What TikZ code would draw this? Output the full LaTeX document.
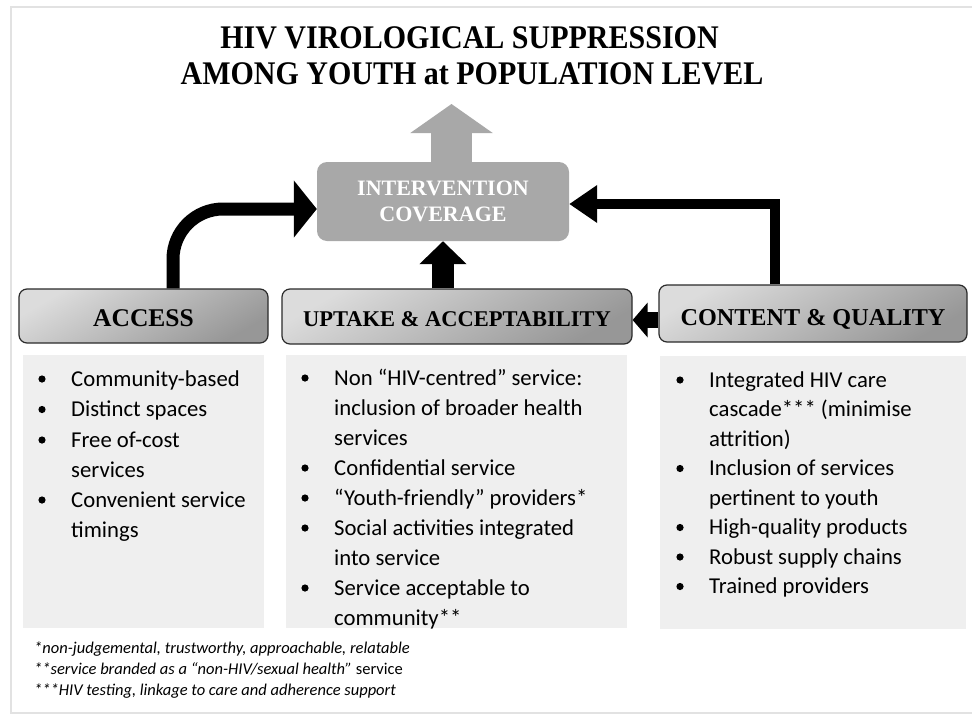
\documentclass[tikz,border=0pt]{standalone}
\usepackage{fontspec}
\setmainfont{Liberation Serif}
\newfontfamily\carl{Carlito}
\usetikzlibrary{arrows.meta,calc}
\definecolor{framegray}{HTML}{E2E2E2}
\definecolor{boxgray}{HTML}{EFEFEF}
\definecolor{intgray}{HTML}{A8A8A8}
\definecolor{hlight}{HTML}{DCDCDC}
\definecolor{hdark}{HTML}{979797}
\definecolor{hborder}{HTML}{2B2B2B}
\begin{document}
\begin{tikzpicture}[x=1pt,y=-1pt,
  hdr/.style={draw=hborder, line width=1.2pt, rounded corners=8pt,
    top color=hlight, bottom color=hdark, shading angle=30,
    inner sep=0pt, text depth=0pt},
  listbox/.style={fill=boxgray, inner sep=0pt, minimum height=273pt},
  item/.style={anchor=base west, inner sep=0pt, font=\carl\fontsize{22.7}{26}\selectfont},
  foot/.style={anchor=base west, inner sep=0pt, font=\carl\itshape\fontsize{16.5}{20}\selectfont},
  titletext/.style={anchor=base, inner sep=0pt, font=\bfseries\fontsize{30}{36}\selectfont},
  blockarrow/.style={draw=black, line join=miter}
]
\useasboundingbox (0,0) rectangle (972,715);
\fill[white] (0,0) rectangle (972,715);
\draw[framegray, line width=2pt] (972,7) -- (11,7) -- (11,713) -- (972,713);

% title
\node[titletext] (t1) at (469.5,48) {\scalebox{1}[1.1]{HIV VIROLOGICAL SUPPRESSION}};
\node[titletext] (t2) at (472,84) {\scalebox{1}[1.1]{AMONG YOUTH at POPULATION LEVEL}};

% intervention coverage
\node[fill=intgray, rounded corners=10pt, minimum width=252pt, minimum height=79pt,
  inner sep=0pt, align=center, text=white, font=\bfseries\fontsize{22}{26}\selectfont]
  (inter) at (443,201.5) {INTERVENTION\\COVERAGE};

% header boxes
\node[hdr, minimum width=249pt, minimum height=54pt, text height=20pt,
  font=\bfseries\fontsize{25.5}{30}\selectfont] (acc) at (143.5,316) {ACCESS};
\node[hdr, minimum width=350pt, minimum height=55pt, text height=19pt,
  font=\bfseries\fontsize{22.5}{27}\selectfont] (up) at (457,316.5) {UPTAKE \& ACCEPTABILITY};
\node[hdr, minimum width=308pt, minimum height=57pt, text height=23pt,
  font=\bfseries\fontsize{24.2}{29}\selectfont] (cq) at (813,313.5) {CONTENT \& QUALITY};

% list boxes
\node[listbox, minimum width=241pt] (accbox) at (143.5,491.5) {};
\node[listbox, minimum width=341pt] (upbox) at (456.5,491.5) {};
\node[listbox, minimum width=306pt] (cqbox) at (813,492.5) {};

% ACCESS list
\node[item] (a1) at (71,386) {Community-based};
\node[item] (a2) at (71,416.5) {Distinct spaces};
\node[item] (a3) at (71,447) {Free of-cost};
\node[item] (a4) at (71,477) {services};
\node[item] (a5) at (71,507) {Convenient service};
\node[item] (a6) at (71,537) {timings};
\foreach \y in {386,416.5,447,507} \fill (42,\y-7) circle (3.6pt);

% UPTAKE list (clipped by its box)
\begin{scope}
\clip (upbox.north west) rectangle (upbox.south east);
\node[item] (u1) at (334,385) {Non “HIV-centred” service:};
\node[item] (u2) at (334,415) {inclusion of broader health};
\node[item] (u3) at (334,445) {services};
\node[item] (u4) at (334,475) {Confidential service};
\node[item] (u5) at (334,505) {“Youth-friendly” providers*};
\node[item] (u6) at (334,535) {Social activities integrated};
\node[item] (u7) at (334,565) {into service};
\node[item] (u8) at (334,595) {Service acceptable to};
\node[item] (u9) at (334,625) {community**};
\end{scope}
\foreach \y in {385,475,505,535,595} \fill (305,\y-7) circle (3.6pt);

% CONTENT list
\node[item] (c1) at (709,387) {Integrated HIV care};
\node[item] (c2) at (709,416.5) {cascade*** (minimise};
\node[item] (c3) at (709,446) {attrition)};
\node[item] (c4) at (709,475.5) {Inclusion of services};
\node[item] (c5) at (709,505) {pertinent to youth};
\node[item] (c6) at (709,534.5) {High-quality products};
\node[item] (c7) at (709,564) {Robust supply chains};
\node[item] (c8) at (709,593.5) {Trained providers};
\foreach \y in {387,475.5,534.5,564,593.5} \fill (680,\y-7) circle (3.6pt);

% footnotes
\node[foot] (f1) at (34,653) {*non-judgemental, trustworthy, approachable, relatable};
\node[foot] (f2) at (34,674) {**service branded as a “non-HIV/sexual health” {\upshape service}};
\node[foot] (f3) at (34,695) {***HIV testing, linkage to care and adherence support};

% arrows
\coordinate (gtip) at (451.5,104);
\draw[intgray, line width=41pt, -{Triangle[length=29pt,width=81pt]}] (inter.north -| gtip) -- (gtip);

\coordinate (lx) at (173,209);
\draw[blockarrow, line width=13pt, rounded corners=50pt, -{Triangle[length=23pt,width=56pt]}]
  (acc.north -| lx) |- (inter.west |- lx);

\coordinate (rx) at (775,204);
\draw[blockarrow, line width=10pt, -{Triangle[length=28pt,width=36pt]}]
  (cq.north -| rx) |- (inter.east |- rx);

\coordinate (mx) at (443,0);
\draw[blockarrow, line width=22pt, -{Triangle[length=23pt,width=46pt]}]
  (up.north -| mx) -- (inter.south -| mx);

\coordinate (sy) at (0,320);
\draw[blockarrow, line width=16pt, -{Triangle[length=15pt,width=34pt]}]
  (cq.west |- sy) -- (up.east |- sy);
\end{tikzpicture}
\end{document}
